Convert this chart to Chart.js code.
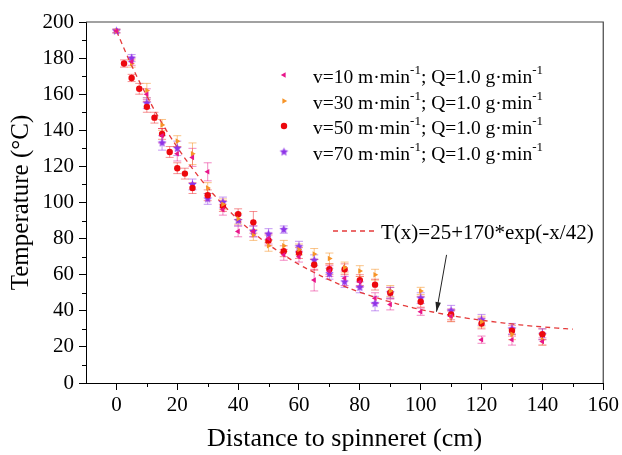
<!DOCTYPE html>
<html>
<head>
<meta charset="utf-8">
<script src="https://cdn.jsdelivr.net/npm/chart.js@4.4.1/dist/chart.umd.min.js"></script>
<style>
	html, body { margin: 0; padding: 0; background: #fff; }
</style>
</head>
<body>
<canvas id="chart-temperature" width="622" height="455"></canvas>
<script>
	// distances (cm) shared by the v=10, v=30 and v=70 runs
	const distances = [0, 5, 10, 15, 20, 25, 30, 35, 40, 45, 50, 55, 60, 65, 70, 75, 80, 85, 90, 100, 110, 120, 130, 140];

	const temp10 = [195, 178, 160, 137, 127, 125, 117, 96, 84, 84, 80, 71, 70, 57, 62, 58, 56, 47, 43.5, 39.5, 37, 24, 24, 23];
	const err10 = [1, 2, 3, 4, 4, 5, 5, 3, 3, 3, 3, 3, 3, 6, 3, 4, 3, 3, 3, 2, 3, 2, 3, 2];

	const temp30 = [195, 177, 162, 143, 134, 127, 108, 99, 91, 82, 76, 76, 74, 71.5, 69, 64, 62, 60, 51, 51, 37, 34, 27, 24];
	const err30 = [1, 2, 4, 3, 3, 6, 3, 3, 3, 3, 3, 3, 3, 3, 3, 3, 3, 3, 3, 2, 3, 3, 3, 3];

	const temp70 = [195, 180, 155, 133, 130, 110, 102, 100, 90, 84, 82.5, 85, 75.5, 68, 60.5, 56, 53, 44, 50, 47, 40, 35, 30, 27];
	const err70 = [1, 2, 3, 4, 4, 3, 3, 3, 3, 3, 3, 2, 3, 3, 3, 3, 3, 4, 3, 3, 3, 3, 3, 3];

	// the v=50 run was sampled more densely near the spinneret
	const distances50 = [2.5, 5, 7.5, 10, 12.5, 15, 17.5, 20, 22.5, 25, 30, 35, 40, 45, 50, 55, 60, 65, 70, 75, 80, 85, 90, 100, 110, 120, 130, 140];
	const temp50 = [177, 169, 163, 153, 147, 138, 128, 119, 116, 108, 104, 98, 93.5, 89, 79, 73, 72, 65.5, 63, 63, 57, 54.5, 50, 45, 38, 33, 29, 27];
	const err50 = [2, 2, 3, 3, 3, 3, 3, 3, 3, 3, 3, 3, 3, 6, 3, 3, 3, 3, 3, 3, 3, 3, 3, 3, 3, 3, 3, 3];

	// fitted curve T(x)=25+170*exp(-x/42)
	const fitDistances = [0, 5, 10, 15, 20, 25, 30, 35, 40, 45, 50, 55, 60, 65, 70, 75, 80, 85, 90, 95, 100, 105, 110, 115, 120, 125, 130, 135, 140, 145, 150];
	const fitTemps = [195, 175.9, 159, 143.9, 130.6, 118.8, 108.2, 98.9, 90.6, 83.2, 76.7, 70.9, 65.7, 61.2, 57.1, 53.5, 50.3, 47.5, 44.9, 42.7, 40.7, 39, 37.4, 36, 34.8, 33.7, 32.7, 31.8, 31.1, 30.4, 29.8];

	const xTicks = [0, 20, 40, 60, 80, 100, 120, 140, 160];
	const yTicks = [0, 20, 40, 60, 80, 100, 120, 140, 160, 180, 200];

	const seriesLabels = ["v=10 m·min", "v=30 m·min", "v=50 m·min", "v=70 m·min"];
	const fitLabel = "T(x)=25+170*exp(-x/42)";

	const FONT = "Liberation Serif";

	function starMarker(color, r)
	{
		let c = document.createElement("canvas");
		c.width = c.height = r * 2 + 2;
		let g = c.getContext("2d");
		g.beginPath();
		for (let i = 0; i < 10; i++)
		{
			let a = -Math.PI / 2 + i * Math.PI / 5;
			let rr = (i % 2 == 0) ? r : r * 0.45;
			g.lineTo(c.width / 2 + rr * Math.cos(a), c.height / 2 + rr * Math.sin(a));
		}
		g.closePath();
		g.fillStyle = color;
		g.fill();
		return c;
	}

	function points(xs, ys)
	{
		return xs.map((x, i) => ({ x: x, y: ys[i] }));
	}

	const colors = ["rgb(232,22,138)", "rgb(246,148,40)", "rgb(236,8,14)", "rgb(142,52,232)"];
	const barColors = ["rgba(232,22,138,0.5)", "rgba(246,148,40,0.55)", "rgba(236,8,14,0.45)", "rgba(142,52,232,0.5)"];
	const errors = [err10, err30, err50, err70];

	const markers = [
		{ pointStyle: "triangle", rotation: -90, radius: 3.2 },
		{ pointStyle: "triangle", rotation: 90, radius: 3.2 },
		{ pointStyle: "circle", rotation: 0, radius: 3.2 },
		{ pointStyle: starMarker(colors[3], 4.5), rotation: 0, radius: 4 }
	];

	function drawSup(ctx, parts, x, y)
	{
		for (let p of parts)
		{
			if (p[1])
			{
				ctx.font = "13px '" + FONT + "'";
				ctx.fillText(p[0], x, y - 7);
			}
			else
			{
				ctx.font = "19.5px '" + FONT + "'";
				ctx.fillText(p[0], x, y);
			}
			x += ctx.measureText(p[0]).width;
		}
	}

	const extras = {
		id: "extras",
		beforeDatasetsDraw(chart)
		{
			let ctx = chart.ctx;
			let xs = chart.scales.x, ys = chart.scales.y;
			ctx.save();
			ctx.lineWidth = 1;
			for (let i = 0; i < 4; i++)
			{
				let data = chart.data.datasets[i].data;
				ctx.strokeStyle = barColors[i];
				data.forEach((p, j) =>
				{
					let px = xs.getPixelForValue(p.x);
					let top = ys.getPixelForValue(p.y + errors[i][j]);
					let bot = ys.getPixelForValue(p.y - errors[i][j]);
					ctx.beginPath();
					ctx.moveTo(px, top); ctx.lineTo(px, bot);
					ctx.moveTo(px - 4, top); ctx.lineTo(px + 4, top);
					ctx.moveTo(px - 4, bot); ctx.lineTo(px + 4, bot);
					ctx.stroke();
				});
			}
			ctx.restore();
		},
		afterDraw(chart)
		{
			let ctx = chart.ctx;
			let a = chart.chartArea;
			let xs = chart.scales.x, ys = chart.scales.y;
			ctx.save();

			// box on top and right
			ctx.strokeStyle = "#444";
			ctx.lineWidth = 1.2;
			ctx.beginPath();
			ctx.moveTo(a.left, a.top); ctx.lineTo(a.right, a.top); ctx.lineTo(a.right, a.bottom);
			ctx.stroke();

			// minor ticks
			ctx.strokeStyle = "#000";
			ctx.lineWidth = 1;
			ctx.beginPath();
			for (let v = 10; v < 160; v += 20)
			{
				let px = Math.round(xs.getPixelForValue(v)) + 0.5;
				ctx.moveTo(px, a.bottom); ctx.lineTo(px, a.bottom + 4);
			}
			for (let v = 10; v < 200; v += 20)
			{
				let py = Math.round(ys.getPixelForValue(v)) + 0.5;
				ctx.moveTo(a.left, py); ctx.lineTo(a.left - 4, py);
			}
			ctx.stroke();

			// legend
			ctx.textBaseline = "middle";
			ctx.textAlign = "left";
			let rows = [75, 101, 126, 152];
			for (let i = 0; i < 4; i++)
			{
				ctx.fillStyle = colors[i];
				ctx.strokeStyle = colors[i];
				Chart.helpers.drawPoint(ctx, { pointStyle: markers[i].pointStyle, rotation: markers[i].rotation, radius: markers[i].radius, borderWidth: 0 }, 284, rows[i]);
				ctx.fillStyle = "#000";
				drawSup(ctx, [[seriesLabels[i], 0], ["-1", 1], ["; Q=1.0 g·min", 0], ["-1", 1]], 313, rows[i] + 3);
			}

			// fit line entry
			ctx.strokeStyle = "rgba(228,48,48,0.95)";
			ctx.lineWidth = 1.3;
			ctx.setLineDash([5, 4]);
			ctx.beginPath();
			ctx.moveTo(333, 231); ctx.lineTo(374, 231);
			ctx.stroke();
			ctx.setLineDash([]);
			ctx.fillStyle = "#000";
			ctx.font = "21px '" + FONT + "'";
			ctx.fillText(fitLabel, 381, 233);

			// arrow pointing at the fit curve
			let x0 = xs.getPixelForValue(108.5), y0 = ys.getPixelForValue(71);
			let x1 = xs.getPixelForValue(105.2), y1 = ys.getPixelForValue(39.5);
			let ang = Math.atan2(y1 - y0, x1 - x0);
			ctx.strokeStyle = "#222";
			ctx.lineWidth = 1;
			ctx.beginPath();
			ctx.moveTo(x0, y0); ctx.lineTo(x1, y1);
			ctx.stroke();
			ctx.fillStyle = "#222";
			ctx.beginPath();
			ctx.moveTo(x1, y1);
			ctx.lineTo(x1 - 10 * Math.cos(ang - 0.28), y1 - 10 * Math.sin(ang - 0.28));
			ctx.lineTo(x1 - 10 * Math.cos(ang + 0.28), y1 - 10 * Math.sin(ang + 0.28));
			ctx.closePath();
			ctx.fill();

			ctx.restore();
		}
	};

	let datasets = [
		[distances, temp10],
		[distances, temp30],
		[distances50, temp50],
		[distances, temp70]
	].map((s, i) => ({
		label: seriesLabels[i],
		data: points(s[0], s[1]),
		showLine: false,
		pointStyle: markers[i].pointStyle,
		rotation: markers[i].rotation,
		pointRadius: markers[i].radius,
		pointBackgroundColor: colors[i],
		pointBorderColor: colors[i],
		pointBorderWidth: 0
	}));

	datasets.push({
		label: fitLabel,
		data: points(fitDistances, fitTemps),
		showLine: true,
		pointRadius: 0,
		borderColor: "rgba(228,48,48,0.95)",
		borderWidth: 1.3,
		borderDash: [5, 4],
		tension: 0.4
	});

	new Chart("chart-temperature", {
		type: "scatter",
		data: { datasets: datasets },
		options: {
			responsive: false,
			animation: false,
			layout: { padding: { top: 22, right: 16, left: 0, bottom: 0 } },
			plugins: { legend: { display: false }, tooltip: { enabled: false } },
			scales: {
				x: {
					type: "linear",
					min: -10,
					max: 160,
					afterBuildTicks: s => { s.ticks = xTicks.map(v => ({ value: v })); },
					afterFit: s => { s.height = 72; },
					grid: { drawOnChartArea: false, drawTicks: true, tickLength: 7, color: "#000" },
					border: { display: true, color: "#000", width: 1 },
					ticks: { autoSkip: false, maxRotation: 0, padding: 3, color: "#000", font: { family: FONT, size: 21 } },
					title: { display: true, text: "Distance to spinneret (cm)", color: "#000", font: { family: FONT, size: 26 }, padding: { top: 0, bottom: 0 } }
				},
				y: {
					type: "linear",
					min: 0,
					max: 200,
					afterBuildTicks: s => { s.ticks = yTicks.map(v => ({ value: v })); },
					afterFit: s => { s.width = 86; },
					grid: { drawOnChartArea: false, drawTicks: true, tickLength: 7, color: "#000" },
					border: { display: true, color: "#000", width: 1 },
					ticks: { autoSkip: false, padding: 5, color: "#000", font: { family: FONT, size: 21 } },
					title: { display: true, text: "Temperature (°C)", color: "#000", font: { family: FONT, size: 25 }, padding: { top: 6, bottom: 0 } }
				}
			}
		},
		plugins: [extras]
	});
</script>
</body>
</html>
